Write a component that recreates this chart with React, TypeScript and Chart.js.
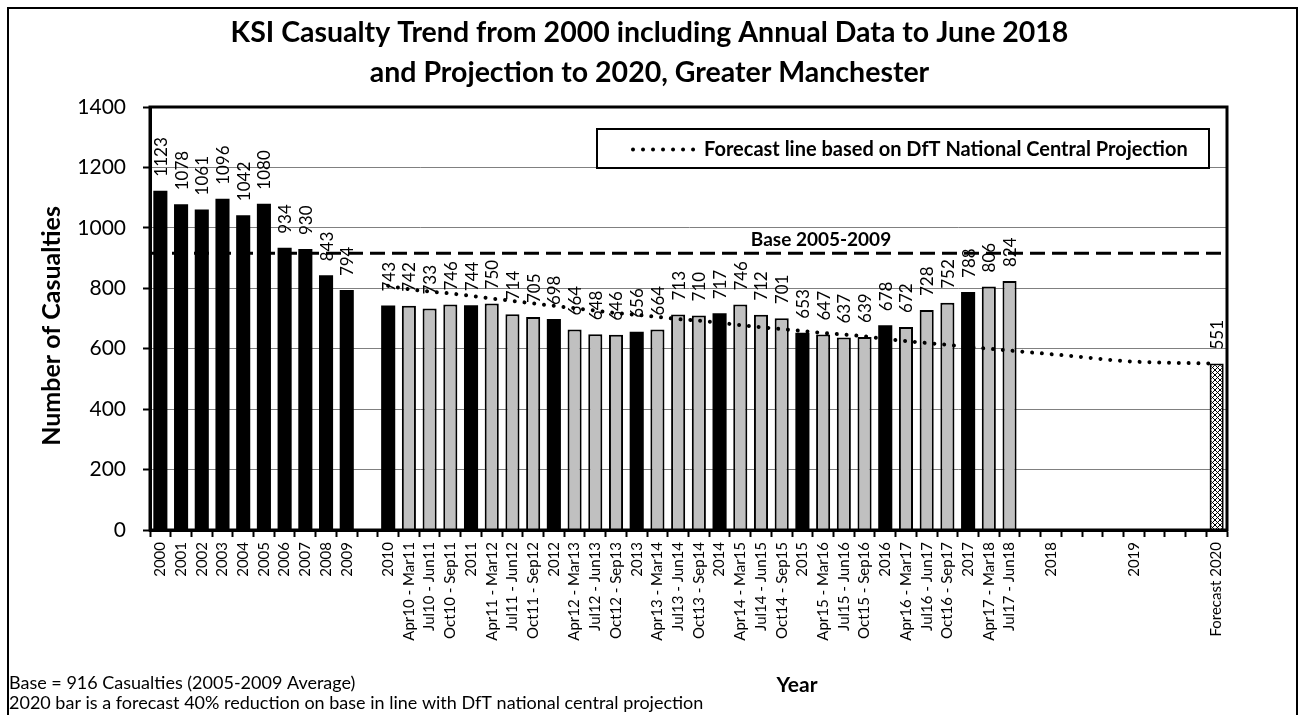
import React, { useEffect, useRef } from "react";
import { Chart, registerables } from "chart.js";

Chart.register(...registerables);

// ---------- data ----------
const CATEGORIES: string[] = [
  "2000", "2001", "2002", "2003", "2004", "2005", "2006", "2007", "2008", "2009",
  "",
  "2010", "Apr10 - Mar11", "Jul10 - Jun11", "Oct10 - Sep11",
  "2011", "Apr11 - Mar12", "Jul11 - Jun12", "Oct11 - Sep12",
  "2012", "Apr12 - Mar13", "Jul12 - Jun13", "Oct12 - Sep13",
  "2013", "Apr13 - Mar14", "Jul13 - Jun14", "Oct13 - Sep14",
  "2014", "Apr14 - Mar15", "Jul14 - Jun15", "Oct14 - Sep15",
  "2015", "Apr15 - Mar16", "Jul15 - Jun16", "Oct15 - Sep16",
  "2016", "Apr16 - Mar17", "Jul16 - Jun17", "Oct16 - Sep17",
  "2017", "Apr17 - Mar18", "Jul17 - Jun18",
  "", "2018", "", "", "", "2019", "", "", "", "Forecast 2020",
];

const CASUALTIES: (number | null)[] = [
  1123, 1078, 1061, 1096, 1042, 1080, 934, 930, 843, 794,
  null,
  743, 742, 733, 746,
  744, 750, 714, 705,
  698, 664, 648, 646,
  656, 664, 713, 710,
  717, 746, 712, 701,
  653, 647, 637, 639,
  678, 672, 728, 752,
  788, 806, 824,
  null, null, null, null, null, null, null, null, null, 551,
];

const FORECAST_LINE: (number | null)[] = [
  null, null, null, null, null, null, null, null, null, null,
  null,
  808, 797, 789, 783,
  775, 766, 758, 750,
  742, 734, 726, 718,
  712, 705, 698, 693,
  686, 678, 671, 665,
  659, 652, 647, 641,
  633, 625, 619, 613,
  606, 600, 594,
  588, 582, 576, 569, 562, 557, 555, 553, 552, 551,
];

const BASE_VALUE = 916;
const BASE_LABEL = "Base 2005-2009";
const Y_MIN = 0;
const Y_MAX = 1400;
const Y_STEP = 200;

const TITLE_LINES = [
  "KSI Casualty Trend from 2000 including Annual Data to June 2018",
  "and Projection to 2020, Greater Manchester",
];
const Y_TITLE = "Number of Casualties";
const X_TITLE = "Year";
const LEGEND_TEXT = "Forecast line based on DfT National Central Projection";
const NOTES = [
  "Base = 916 Casualties (2005-2009 Average)",
  "2020 bar is a forecast 40% reduction on base in line with DfT national central projection",
];

// ---------- styling helpers ----------
const FONT = "Lato";
const GREY = "#C0C0C0";

function kindOf(label: string): "annual" | "rolling" | "forecast" {
  if (label.startsWith("Forecast")) return "forecast";
  if (/^\d{4}$/.test(label)) return "annual";
  return "rolling";
}

function makeCrossHatch(): CanvasPattern | string {
  const c = document.createElement("canvas");
  c.width = 5;
  c.height = 5;
  const g = c.getContext("2d");
  if (!g) return "#fff";
  g.fillStyle = "#fff";
  g.fillRect(0, 0, 5, 5);
  g.strokeStyle = "#000";
  g.lineWidth = 1;
  g.beginPath();
  g.moveTo(0, 0);
  g.lineTo(5, 5);
  g.moveTo(5, 0);
  g.lineTo(0, 5);
  g.stroke();
  return g.createPattern(c, "repeat") || "#fff";
}

// ---------- plugins ----------
const whiteBg = {
  id: "whiteBg",
  beforeDraw(chart: any) {
    const ctx = chart.ctx;
    ctx.save();
    ctx.fillStyle = "#fff";
    ctx.fillRect(0, 0, chart.width, chart.height);
    ctx.restore();
  },
};

const baseLine = {
  id: "baseLine",
  afterDatasetsDraw(chart: any) {
    const { ctx, chartArea } = chart;
    const y = chart.scales.y.getPixelForValue(BASE_VALUE);
    ctx.save();
    ctx.strokeStyle = "#000";
    ctx.lineWidth = 3;
    ctx.setLineDash([15, 7]);
    ctx.beginPath();
    ctx.moveTo(chartArea.left, y);
    ctx.lineTo(chartArea.right, y);
    ctx.stroke();
    ctx.setLineDash([]);
    ctx.font = `bold 19px ${FONT}`;
    ctx.fillStyle = "#000";
    ctx.textAlign = "center";
    ctx.textBaseline = "alphabetic";
    ctx.fillText(BASE_LABEL, chartArea.left + (chartArea.right - chartArea.left) * 0.623, y - 7);
    ctx.restore();
  },
};

const barLabels = {
  id: "barLabels",
  afterDatasetsDraw(chart: any) {
    const meta = chart.getDatasetMeta(0);
    const ctx = chart.ctx;
    ctx.save();
    ctx.font = `17px ${FONT}`;
    ctx.fillStyle = "#000";
    ctx.textAlign = "left";
    ctx.textBaseline = "middle";
    meta.data.forEach((el: any, i: number) => {
      const v = CASUALTIES[i];
      if (v == null) return;
      ctx.save();
      ctx.translate(el.x + 1, el.y - 14);
      ctx.rotate(-Math.PI / 2);
      ctx.fillText(String(v), 0, 0);
      ctx.restore();
    });
    ctx.restore();
  },
};

const frameAndExtras = {
  id: "frameAndExtras",
  afterDraw(chart: any) {
    const { ctx, chartArea } = chart;
    ctx.save();
    // plot frame
    ctx.strokeStyle = "#000";
    ctx.lineWidth = 3;
    ctx.strokeRect(chartArea.left, chartArea.top, chartArea.right - chartArea.left, chartArea.bottom - chartArea.top);
    // outer border
    ctx.lineWidth = 2;
    ctx.strokeRect(8, 8, 1289, 730);

    // title
    ctx.fillStyle = "#000";
    ctx.font = `bold 28.5px ${FONT}`;
    ctx.textAlign = "center";
    ctx.textBaseline = "middle";
    ctx.fillText(TITLE_LINES[0], chart.width / 2, 33);
    ctx.fillText(TITLE_LINES[1], chart.width / 2, 73);

    // legend box
    const lx = chartArea.left + 447;
    const ly = chartArea.top + 22;
    const lw = 612;
    const lh = 39;
    ctx.fillStyle = "#fff";
    ctx.fillRect(lx, ly, lw, lh);
    ctx.lineWidth = 2;
    ctx.strokeRect(lx, ly, lw, lh);
    const cy = ly + lh / 2 + 1;
    ctx.strokeStyle = "#000";
    ctx.lineWidth = 4;
    ctx.lineCap = "round";
    ctx.setLineDash([0.01, 10]);
    ctx.beginPath();
    ctx.moveTo(lx + 36, cy);
    ctx.lineTo(lx + 99, cy);
    ctx.stroke();
    ctx.setLineDash([]);
    ctx.fillStyle = "#000";
    ctx.font = `bold 20px ${FONT}`;
    ctx.textAlign = "left";
    ctx.textBaseline = "middle";
    ctx.fillText(LEGEND_TEXT, lx + 107, cy);

    // x-axis title
    ctx.font = `bold 21px ${FONT}`;
    ctx.textAlign = "center";
    ctx.fillText(X_TITLE, 797, 685);

    // y-axis title
    ctx.save();
    ctx.translate(52, 326);
    ctx.rotate(-Math.PI / 2);
    ctx.font = `bold 25px ${FONT}`;
    ctx.textAlign = "center";
    ctx.textBaseline = "middle";
    ctx.fillText(Y_TITLE, 0, 0);
    ctx.restore();

    // notes
    ctx.font = `18px ${FONT}`;
    ctx.textAlign = "left";
    ctx.textBaseline = "middle";
    ctx.fillText(NOTES[0], 9, 683);
    ctx.fillText(NOTES[1], 9, 703);
    ctx.restore();
  },
};

export default function App() {
  const ref = useRef<HTMLCanvasElement>(null);

  useEffect(() => {
    if (!ref.current) return;
    const hatch = makeCrossHatch();
    const kinds = CATEGORIES.map(kindOf);
    const barColors = kinds.map((k) => (k === "annual" ? "#000" : k === "rolling" ? GREY : hatch));
    const borderWidths = kinds.map((k) => (k === "annual" ? 0 : 2));

    const chart = new Chart(ref.current, {
      type: "bar",
      data: {
        labels: CATEGORIES,
        datasets: [
          {
            type: "bar",
            label: "Casualties",
            data: CASUALTIES as any,
            backgroundColor: barColors as any,
            borderColor: "#000",
            borderWidth: borderWidths as any,
            barPercentage: 0.68,
            categoryPercentage: 1,
            order: 1,
          },
          {
            type: "line",
            label: LEGEND_TEXT,
            data: FORECAST_LINE as any,
            borderColor: "#000",
            borderWidth: 4,
            borderDash: [0.01, 9.8],
            borderCapStyle: "round",
            pointRadius: 0,
            tension: 0,
            fill: false,
            order: 0,
          } as any,
        ],
      },
      options: {
        responsive: false,
        animation: false,
        devicePixelRatio: 1,
        layout: { padding: { left: 8, right: 72, top: 107, bottom: 0 } },
        plugins: {
          legend: { display: false },
          tooltip: { enabled: false },
          title: { display: false },
        },
        scales: {
          x: {
            offset: true,
            grid: {
              display: true,
              drawOnChartArea: false,
              offset: true,
              tickLength: 7,
              tickWidth: 2,
              tickColor: "#000",
            },
            border: { display: true, color: "#000", width: 3 },
            ticks: {
              autoSkip: false,
              maxRotation: 90,
              minRotation: 90,
              padding: 5,
              color: "#000",
              font: { family: FONT, size: 15 },
            },
            title: { display: false },
            afterFit(scale: any) {
              scale.height = 185;
            },
          },
          y: {
            min: Y_MIN,
            max: Y_MAX,
            grid: {
              color: "#808080",
              lineWidth: 1,
              tickLength: 7,
              tickWidth: 2,
              tickColor: "#000",
            },
            border: { display: true, color: "#000", width: 3 },
            ticks: {
              stepSize: Y_STEP,
              padding: 17,
              color: "#000",
              font: { family: FONT, size: 21 },
              callback: (v: any) => String(v),
            },
            title: { display: false },
            afterFit(scale: any) {
              scale.width = 142;
            },
          },
        },
      },
      plugins: [whiteBg, baseLine, barLabels, frameAndExtras],
    });
    return () => chart.destroy();
  }, []);

  return (
    <div style={{ position: "fixed", left: 0, top: 0, width: 1299, height: 715, background: "#fff", overflow: "hidden" }}>
      <canvas ref={ref} width={1299} height={715} style={{ display: "block", width: 1299, height: 715 }} />
    </div>
  );
}
